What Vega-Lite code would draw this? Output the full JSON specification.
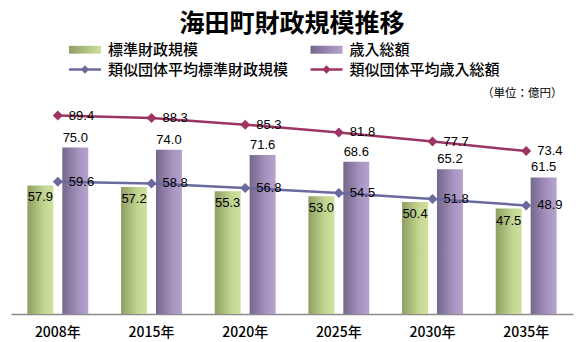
{
  "$schema": "https://vega.github.io/schema/vega-lite/v6.json",
  "autosize": "none",
  "width": 562,
  "height": 222,
  "padding": {"left": 11, "top": 92, "right": 15, "bottom": 28},
  "background": "#ffffff",
  "config": {"view": {"stroke": null}, "font": "Noto Sans CJK JP"},
  "title": {"text": "海田町財政規模推移", "anchor": "middle", "frame": "group", "baseline": "middle", "offset": -7, "fontSize": 25, "fontWeight": "bold", "font": "Noto Sans CJK JP", "color": "#000000"},
  "data": {"values": [
    {"year": "2008年", "series": "標準財政規模", "value": 57.9},
    {"year": "2015年", "series": "標準財政規模", "value": 57.2},
    {"year": "2020年", "series": "標準財政規模", "value": 55.3},
    {"year": "2025年", "series": "標準財政規模", "value": 53.0},
    {"year": "2030年", "series": "標準財政規模", "value": 50.4},
    {"year": "2035年", "series": "標準財政規模", "value": 47.5},
    {"year": "2008年", "series": "歳入総額", "value": 75.0},
    {"year": "2015年", "series": "歳入総額", "value": 74.0},
    {"year": "2020年", "series": "歳入総額", "value": 71.6},
    {"year": "2025年", "series": "歳入総額", "value": 68.6},
    {"year": "2030年", "series": "歳入総額", "value": 65.2},
    {"year": "2035年", "series": "歳入総額", "value": 61.5},
    {"year": "2008年", "series": "類似団体平均標準財政規模", "value": 59.6},
    {"year": "2015年", "series": "類似団体平均標準財政規模", "value": 58.8},
    {"year": "2020年", "series": "類似団体平均標準財政規模", "value": 56.8},
    {"year": "2025年", "series": "類似団体平均標準財政規模", "value": 54.5},
    {"year": "2030年", "series": "類似団体平均標準財政規模", "value": 51.8},
    {"year": "2035年", "series": "類似団体平均標準財政規模", "value": 48.9},
    {"year": "2008年", "series": "類似団体平均歳入総額", "value": 89.4},
    {"year": "2015年", "series": "類似団体平均歳入総額", "value": 88.3},
    {"year": "2020年", "series": "類似団体平均歳入総額", "value": 85.3},
    {"year": "2025年", "series": "類似団体平均歳入総額", "value": 81.8},
    {"year": "2030年", "series": "類似団体平均歳入総額", "value": 77.7},
    {"year": "2035年", "series": "類似団体平均歳入総額", "value": 73.4}
  ]},
  "encoding": {
    "x": {"field": "year", "type": "nominal", "sort": null,
      "scale": {"paddingInner": 0.35, "paddingOuter": 0.175},
      "axis": {"title": null, "labelAngle": 0, "ticks": false, "tickSize": 0, "labelPadding": 18, "labelBaseline": "middle", "labelFontSize": 14, "labelFontWeight": 500, "labelColor": "#000000", "labelFont": "Noto Sans CJK JP", "domainColor": "#8c8c8c", "domainWidth": 1.5, "grid": false}},
    "y": {"field": "value", "type": "quantitative", "scale": {"domain": [0, 100]},
      "axis": {"orient": "right", "labels": false, "ticks": false, "domain": false, "grid": false, "title": "（単位：億円）", "titleAngle": 0, "titleAlign": "right", "titleBaseline": "middle", "titleX": -11, "titleY": 1, "titleFontSize": 11.5, "titleFontWeight": "normal", "titleFont": "Noto Sans CJK JP", "titleColor": "#000000"}}
  },
  "layer": [
    {
      "transform": [{"filter": "datum.series === '標準財政規模'"}],
      "mark": {"type": "bar", "fill": {"gradient": "linear", "x1": 0, "y1": 0, "x2": 1, "y2": 0, "stops": [{"offset": 0, "color": "#8e9f62"}, {"offset": 0.65, "color": "#c3d692"}, {"offset": 1, "color": "#cde09c"}]}},
      "encoding": {"xOffset": {"field": "series", "scale": {"domain": ["標準財政規模", "歳入総額"], "paddingInner": 0.257}}}
    },
    {
      "transform": [{"filter": "datum.series === '歳入総額'"}],
      "mark": {"type": "bar", "fill": {"gradient": "linear", "x1": 0, "y1": 0, "x2": 1, "y2": 0, "stops": [{"offset": 0, "color": "#74678c"}, {"offset": 0.65, "color": "#a894c0"}, {"offset": 1, "color": "#b7a2cf"}]}},
      "encoding": {"xOffset": {"field": "series", "scale": {"domain": ["標準財政規模", "歳入総額"], "paddingInner": 0.257}}}
    },
    {
      "transform": [{"filter": "datum.series === '標準財政規模'"}],
      "mark": {"type": "text", "baseline": "middle", "align": "center", "dy": 12, "fontSize": 13, "font": "Liberation Sans", "color": "#000000"},
      "encoding": {"xOffset": {"field": "series", "scale": {"domain": ["標準財政規模", "歳入総額"], "paddingInner": 0.257}}, "text": {"field": "value", "format": ".1f"}}
    },
    {
      "transform": [{"filter": "datum.series === '歳入総額'"}],
      "mark": {"type": "text", "baseline": "middle", "align": "center", "dy": -10, "fontSize": 13, "font": "Liberation Sans", "color": "#000000"},
      "encoding": {"xOffset": {"field": "series", "scale": {"domain": ["標準財政規模", "歳入総額"], "paddingInner": 0.257}}, "text": {"field": "value", "format": ".1f"}}
    },
    {
      "transform": [{"filter": "datum.series === '類似団体平均標準財政規模' || datum.series === '類似団体平均歳入総額'"}],
      "mark": {"type": "line", "strokeWidth": 2.5},
      "encoding": {
        "color": {"field": "series", "type": "nominal",
          "scale": {"domain": ["標準財政規模", "類似団体平均標準財政規模", "歳入総額", "類似団体平均歳入総額"], "range": ["#a9bb7a", "#6a6a9e", "#9483ab", "#9c3564"]},
          "legend": {"title": null, "orient": "none", "legendX": 66.5, "legendY": -50, "columns": 2, "columnPadding": 21.5, "rowPadding": 4, "padding": 0, "symbolSize": 169, "symbolStrokeWidth": 0, "symbolOpacity": 1, "labelOffset": 15.5, "labelFontSize": 15, "labelFontWeight": 500, "labelFont": "Noto Sans CJK JP", "labelColor": "#000000", "labelLimit": 400,
            "encode": {"symbols": {"update": {
              "shape": [{"test": "datum.value === '標準財政規模' || datum.value === '歳入総額'", "value": "M-2.46,-0.6H2.46V0.6H-2.46Z"}, {"value": "M-2.46,-0.18H2.46V0.18H-2.46Z M0,-0.65L0.65,0L0,0.65L-0.65,0Z"}],
              "fill": [
                {"test": "datum.value === '標準財政規模'", "value": {"gradient": "linear", "x1": 0, "y1": 0, "x2": 1, "y2": 0, "stops": [{"offset": 0, "color": "#8e9f62"}, {"offset": 1, "color": "#cde09c"}]}},
                {"test": "datum.value === '歳入総額'", "value": {"gradient": "linear", "x1": 0, "y1": 0, "x2": 1, "y2": 0, "stops": [{"offset": 0, "color": "#74678c"}, {"offset": 1, "color": "#b7a2cf"}]}},
                {"test": "datum.value === '類似団体平均標準財政規模'", "value": "#6a6a9e"},
                {"value": "#9c3564"}],
              "strokeWidth": {"value": 0},
              "opacity": {"value": 1},
              "fillOpacity": {"value": 1}
            }}}}
        }
      }
    },
    {
      "transform": [{"filter": "datum.series === '類似団体平均標準財政規模' || datum.series === '類似団体平均歳入総額'"}],
      "mark": {"type": "point", "shape": "diamond", "filled": true, "size": 100, "opacity": 1},
      "encoding": {"color": {"condition": {"test": "datum.series === '類似団体平均歳入総額'", "value": "#9c3564"}, "value": "#6a6a9e"}}
    },
    {
      "transform": [{"filter": "datum.series === '類似団体平均標準財政規模' || datum.series === '類似団体平均歳入総額'"}],
      "mark": {"type": "text", "align": "left", "baseline": "middle", "dx": 11, "fontSize": 13, "font": "Liberation Sans", "color": "#000000"},
      "encoding": {"text": {"field": "value", "format": ".1f"}}
    }
  ]
}
